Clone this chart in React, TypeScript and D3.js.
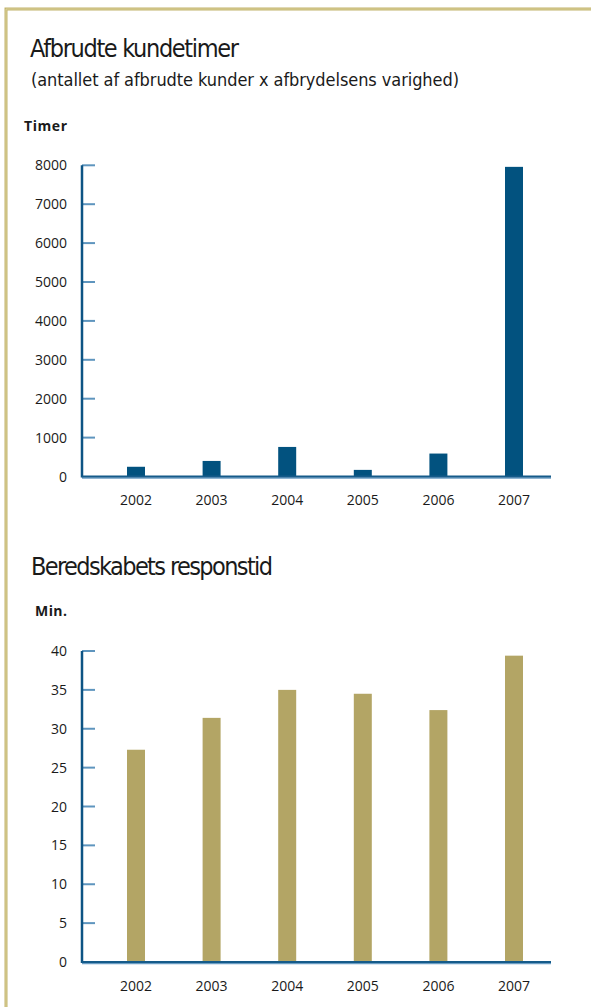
import React from "react";
import * as d3 from "d3";

const years = ["2002", "2003", "2004", "2005", "2006", "2007"];
const kundetimer = [250, 400, 760, 170, 590, 7960];
const responstid = [27.3, 31.4, 35.0, 34.5, 32.4, 39.4];
const timerTicks = [0, 1000, 2000, 3000, 4000, 5000, 6000, 7000, 8000];
const minTicks = [0, 5, 10, 15, 20, 25, 30, 35, 40];

const W = 591;
const H = 1007;
const AXIS_X = 82;
const AXIS_END = 551;
const LABEL_FONT = "'Open Sans', 'Noto Sans', sans-serif";
const TITLE_FONT = "'Liberation Sans Narrow', 'DejaVu Sans Condensed', 'Noto Sans', sans-serif";

const x = d3
  .scaleBand<string>()
  .domain(years)
  .range([98.2, 551.8])
  .paddingInner(0.762)
  .paddingOuter(0.381);

type PanelProps = {
  values: number[];
  ticks: number[];
  max: number;
  top: number;
  bottom: number;
  color: string;
};

function Panel({ values, ticks, max, top, bottom, color }: PanelProps) {
  const y = d3.scaleLinear().domain([0, max]).range([bottom, top]);
  return (
    <g>
      {values.map((v, i) => (
        <rect
          key={years[i]}
          x={x(years[i])}
          y={y(v)}
          width={x.bandwidth()}
          height={y(0) - y(v)}
          fill={color}
        />
      ))}
      {ticks.map((t) => (
        <g key={t}>
          {t !== 0 && (
            <line x1={AXIS_X} x2={AXIS_X + 13} y1={y(t)} y2={y(t)} stroke="#5e95be" strokeWidth={2} />
          )}
          <text
            x={67}
            y={y(t)}
            dy="0.36em"
            textAnchor="end"
            fontFamily={LABEL_FONT}
            fontSize={14}
            fill="#1a1a1a"
          >
            {t}
          </text>
        </g>
      ))}
      <line x1={AXIS_X} x2={AXIS_X} y1={top} y2={bottom + 1} stroke="#0d5484" strokeWidth={2.5} />
      <line x1={AXIS_X} x2={AXIS_END} y1={bottom + 1.5} y2={bottom + 1.5} stroke="#6b9dc3" strokeWidth={1.5} />
      <line x1={AXIS_X} x2={AXIS_END} y1={bottom} y2={bottom} stroke="#155b8a" strokeWidth={2} />
      {years.map((yr) => (
        <text
          key={yr}
          x={(x(yr) as number) + x.bandwidth() / 2}
          y={bottom + 28.5}
          textAnchor="middle"
          fontFamily={LABEL_FONT}
          fontSize={14}
          fill="#1a1a1a"
        >
          {yr}
        </text>
      ))}
    </g>
  );
}

export default function App() {
  return (
    <div style={{ position: "absolute", left: 0, top: 0, width: W, height: H, overflow: "hidden", background: "#fff" }}>
      <svg width={W} height={H} style={{ display: "block" }}>
        <rect x={0} y={0} width={W} height={H} fill="#fff" />
        <path d={`M6 ${H} V9 H${W}`} fill="none" stroke="#c2b46c" strokeWidth={3} />
        <path d={`M6 ${H} V9 H${W}`} fill="none" stroke="#e2d9a8" strokeWidth={0.8} />

        <text x={30} y={57} fontFamily={TITLE_FONT} fontSize={25} fill="#1a1a1a" textLength={209} lengthAdjust="spacing">
          Afbrudte kundetimer
        </text>
        <text x={31} y={86} fontFamily={TITLE_FONT} fontSize={18} fill="#1a1a1a" textLength={428} lengthAdjust="spacing">
          (antallet af afbrudte kunder x afbrydelsens varighed)
        </text>
        <text x={24} y={131} fontFamily={LABEL_FONT} fontSize={14} fontWeight="bold" fill="#1a1a1a" textLength={43} lengthAdjust="spacing">
          Timer
        </text>

        <Panel values={kundetimer} ticks={timerTicks} max={8000} top={165.3} bottom={476.5} color="#02527f" />

        <text x={31} y={575} fontFamily={TITLE_FONT} fontSize={25} fill="#1a1a1a" textLength={242} lengthAdjust="spacing">
          Beredskabets responstid
        </text>
        <text x={35} y={616} fontFamily={LABEL_FONT} fontSize={14} fontWeight="bold" fill="#1a1a1a" textLength={32} lengthAdjust="spacing">
          Min.
        </text>

        <Panel values={responstid} ticks={minTicks} max={40} top={651} bottom={962} color="#b3a565" />
      </svg>
    </div>
  );
}
